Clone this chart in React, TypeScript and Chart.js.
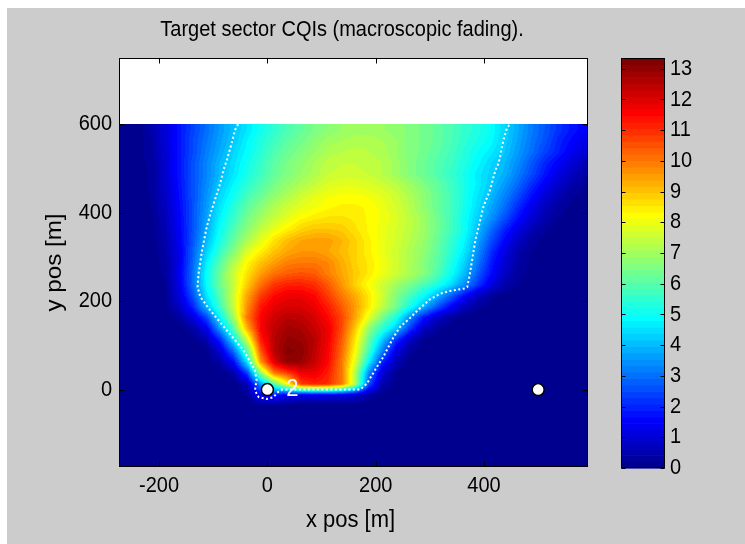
import React, { useEffect, useRef } from "react";
import { Chart, registerables } from "chart.js";

Chart.register(...registerables);

const FONT = "'Liberation Sans', Arial, Helvetica, sans-serif";

const titleText = "Target sector CQIs (macroscopic fading).";
const xAxisTitle = "x pos [m]";
const yAxisTitle = "y pos [m]";

const xRange = [-274, 592];
const yRange = [-175, 750];
const cqiRange = [0, 13.35];
const gridTop = 600;

const xTicks = [-200, 0, 200, 400];
const yTicks = [0, 200, 400, 600];
const cbTicks = [0, 1, 2, 3, 4, 5, 6, 7, 8, 9, 10, 11, 12, 13];

// cell centres of the CQI map (metres)
const xCenters = [
  -262.5, -237.5, -212.5, -187.5, -162.5, -137.5, -112.5, -87.5, -62.5, -37.5, -12.5,
  12.5, 37.5, 62.5, 87.5, 112.5, 137.5, 162.5, 187.5, 212.5, 237.5, 262.5, 287.5,
  312.5, 337.5, 362.5, 387.5, 412.5, 437.5, 462.5, 487.5, 512.5, 537.5, 562.5, 587.5,
];
const yCenters = [
  587.5, 562.5, 537.5, 512.5, 487.5, 462.5, 437.5, 412.5, 387.5, 362.5, 337.5, 312.5,
  287.5, 262.5, 237.5, 212.5, 187.5, 162.5, 137.5, 112.5, 87.5, 62.5, 37.5, 12.5,
  -12.5, -37.5, -62.5, -87.5, -112.5, -137.5, -162.5,
];

// CQI values, one row per y centre (top to bottom)
const cqiRows: number[][] = [
  [0,0.1,0.5,1.1,1.8,2.4,3.0,3.6,4.1,4.6,5.1,5.5,5.9,6.2,6.5,6.7,6.9,7.0,7.0,6.9,6.8,6.6,6.4,6.2,5.9,5.6,5.3,5.0,4.4,3.8,3.2,2.7,2.2,1.8,1.5],
  [0,0.1,0.4,1.1,1.8,2.5,3.1,3.7,4.2,4.8,5.3,5.7,6.1,6.4,6.7,7.0,7.1,7.2,7.2,7.1,6.9,6.6,6.4,6.2,5.9,5.5,5.2,4.9,4.3,3.7,3.1,2.6,2.0,1.6,1.2],
  [0,0.1,0.4,1.0,1.8,2.5,3.2,3.8,4.4,4.9,5.4,5.9,6.3,6.6,6.9,7.2,7.3,7.4,7.3,7.2,6.9,6.6,6.4,6.1,5.8,5.4,5.0,4.7,4.2,3.6,3.0,2.4,1.9,1.4,1.0],
  [0,0.1,0.3,1.0,1.8,2.6,3.3,4.0,4.5,5.1,5.6,6.1,6.5,6.8,7.1,7.4,7.5,7.5,7.4,7.3,7.0,6.6,6.3,6.0,5.7,5.3,4.9,4.4,4.0,3.4,2.7,2.0,1.5,1.0,0.6],
  [0,0.05,0.3,1.0,1.8,2.6,3.3,4.0,4.6,5.2,5.7,6.2,6.6,6.9,7.2,7.5,7.6,7.6,7.5,7.3,7.0,6.6,6.3,6.0,5.6,5.2,4.7,4.3,3.9,3.2,2.5,1.8,1.2,0.75,0.4],
  [0,0.05,0.27,0.9,1.75,2.6,3.4,4.2,4.85,5.45,5.95,6.45,6.85,7.2,7.5,7.8,7.9,7.9,7.8,7.6,7.35,7.0,6.6,6.2,5.75,5.25,4.75,4.2,3.6,2.9,2.1,1.4,0.85,0.45,0.2],
  [0,0.05,0.25,0.85,1.7,2.6,3.5,4.4,5.1,5.8,6.3,6.8,7.2,7.6,7.9,8.1,8.2,8.2,8.1,7.9,7.6,7.2,6.8,6.3,5.8,5.2,4.6,4.0,3.3,2.5,1.7,1.0,0.55,0.25,0.1],
  [0,0.05,0.22,0.75,1.6,2.6,3.6,4.6,5.4,6.1,6.7,7.2,7.6,7.9,8.1,8.3,8.4,8.4,8.3,8.0,7.7,7.3,6.8,6.3,5.8,5.2,4.5,3.8,3.0,2.1,1.3,0.7,0.35,0.12,0.03],
  [0,0.04,0.18,0.65,1.55,2.6,3.7,4.8,5.6,6.4,7.0,7.5,7.9,8.3,8.5,8.6,8.6,8.5,8.3,8.1,7.8,7.4,7.0,6.4,5.8,5.1,4.3,3.5,2.6,1.7,1.0,0.5,0.2,0.06,0.01],
  [0,0.03,0.12,0.6,1.5,2.6,3.8,5.0,5.9,6.7,7.4,8.0,8.4,8.8,9.0,9.0,8.9,8.6,8.3,8.0,7.7,7.4,7.0,6.4,5.8,5.1,4.1,3.0,2.0,1.2,0.6,0.25,0.08,0.02,0],
  [0,0.02,0.08,0.5,1.4,2.7,4.0,5.2,6.2,7.1,7.9,8.6,9.1,9.4,9.5,9.5,9.2,8.8,8.4,8.0,7.7,7.3,6.9,6.3,5.6,4.9,3.8,2.6,1.6,0.8,0.35,0.1,0.02,0,0],
  [0,0,0.05,0.45,1.3,2.8,4.3,5.6,6.6,7.8,8.4,9.0,9.4,9.6,9.6,9.4,9.1,8.8,8.4,8.0,7.6,7.2,6.8,6.2,5.5,4.7,3.5,2.2,1.2,0.5,0.2,0.05,0,0,0],
  [0,0,0.05,0.35,1.3,2.9,4.7,6.0,7.2,8.3,9.0,9.5,9.9,10.0,10.0,9.8,9.3,8.8,8.5,8.1,7.6,7.2,6.7,6.1,5.3,4.4,3.2,1.9,1.0,0.4,0.15,0.05,0,0,0],
  [0,0,0.02,0.3,1.4,3.0,5.0,6.3,7.6,8.6,9.5,10.1,10.4,10.5,10.4,9.9,9.4,8.9,8.5,8.0,7.6,7.2,6.7,6.0,5.1,4.1,2.8,1.7,0.8,0.3,0.1,0,0,0,0],
  [0,0,0,0.2,1.3,3.0,4.9,6.3,7.5,8.9,10.1,10.9,11.2,11.2,11.0,10.4,9.6,8.8,8.2,7.6,7.0,6.5,5.9,5.3,4.5,3.5,2.3,1.2,0.5,0.2,0.05,0,0,0,0],
  [0,0,0,0.2,1.1,2.6,4.6,6.0,7.6,9.4,10.8,11.5,11.8,11.8,11.5,10.8,10.0,9.3,8.5,7.6,6.6,5.8,5.0,4.0,2.9,1.7,0.8,0.3,0.1,0,0,0,0,0,0],
  [0,0,0,0.15,0.8,2.0,4.0,5.7,7.5,9.7,11.3,11.9,12.1,12.1,11.8,11.2,10.4,9.5,8.5,7.4,6.4,5.2,4.0,2.7,1.6,0.7,0.3,0.1,0,0,0,0,0,0,0],
  [0,0,0,0.05,0.3,1.1,2.4,4.8,7.0,10.0,11.6,12.2,12.5,12.4,12.1,11.5,10.7,9.4,7.9,6.4,5.2,3.4,1.8,0.8,0.3,0.1,0,0,0,0,0,0,0,0,0],
  [0,0,0,0,0.05,0.4,1.3,3.6,6.0,9.2,11.6,12.4,12.8,12.7,12.3,11.8,10.6,8.9,6.8,5.4,4.2,2.3,0.8,0.3,0.1,0,0,0,0,0,0,0,0,0,0],
  [0,0,0,0,0,0.05,0.5,2.0,4.6,7.6,11.2,12.5,13.0,12.9,12.5,11.7,10.4,8.5,6.2,4.2,2.2,0.8,0.2,0.05,0,0,0,0,0,0,0,0,0,0,0],
  [0,0,0,0,0,0,0.1,1.0,3.0,6.0,10.5,12.5,13.2,13.1,12.4,11.6,10.2,8.2,5.7,3.2,1.2,0.3,0.05,0,0,0,0,0,0,0,0,0,0,0,0],
  [0,0,0,0,0,0,0.05,0.4,1.6,4.6,9.6,12.0,13.0,12.9,12.3,11.5,10.0,7.8,4.8,2.0,0.6,0.1,0,0,0,0,0,0,0,0,0,0,0,0,0],
  [0,0,0,0,0,0,0,0.05,0.4,2.3,6.8,10.0,10.8,11.8,11.8,11.2,10.0,7.2,3.3,1.0,0.2,0,0,0,0,0,0,0,0,0,0,0,0,0,0],
  [0,0,0,0,0,0,0,0,0.05,0.6,3.5,6.0,8.2,10.8,11.2,11.0,10.0,7.2,2.6,0.5,0.1,0,0,0,0,0,0,0,0,0,0,0,0,0,0],
  [0,0,0,0,0,0,0,0,0,0.2,1.5,1.8,1.3,1.2,1.2,1.2,1.1,0.9,0.4,0.1,0,0,0,0,0,0,0,0,0,0,0,0,0,0,0],
  [0,0,0,0,0,0,0,0,0,0,0.1,0.1,0,0,0,0,0,0,0,0,0,0,0,0,0,0,0,0,0,0,0,0,0,0,0],
  [0,0,0,0,0,0,0,0,0,0,0,0,0,0,0,0,0,0,0,0,0,0,0,0,0,0,0,0,0,0,0,0,0,0,0],
  [0,0,0,0,0,0,0,0,0,0,0,0,0,0,0,0,0,0,0,0,0,0,0,0,0,0,0,0,0,0,0,0,0,0,0],
  [0,0,0,0,0,0,0,0,0,0,0,0,0,0,0,0,0,0,0,0,0,0,0,0,0,0,0,0,0,0,0,0,0,0,0],
  [0,0,0,0,0,0,0,0,0,0,0,0,0,0,0,0,0,0,0,0,0,0,0,0,0,0,0,0,0,0,0,0,0,0,0],
  [0,0,0,0,0,0,0,0,0,0,0,0,0,0,0,0,0,0,0,0,0,0,0,0,0,0,0,0,0,0,0,0,0,0,0],
];

// eNodeB sites
const siteX = [0, 500];
const siteY = [0, 0];
const siteLabelText = ["2"];
const siteLabelX = [35];
const siteLabelY = [0];

// target sector border (dotted)
const boundaryX = [
  -54, -60, -66, -75, -81, -87, -97, -103, -112, -118, -121, -127, -129, -124, -106, -75,
  -44, -23, -20, -23, -16, -1, 11, 20, 27, 171, 184, 202, 214, 233, 245, 261, 278, 300,
  319, 337, 365, 369, 374, 378, 384, 390, 399, 411, 421, 427, 436, 442, 448,
];
const boundaryY = [
  600, 587, 557, 519, 497, 467, 429, 406, 368, 331, 312, 263, 232, 210, 180, 134,
  89, 44, 21, -2, -17, -21, -17, -5, 0, 0, 14, 51, 74, 119, 142, 159, 180, 204,
  217, 223, 229, 232, 263, 293, 338, 368, 414, 451, 496, 512, 565, 591, 600,
];

function jetColor(v: number): [number, number, number] {
  let idx = Math.floor(((v - cqiRange[0]) / (cqiRange[1] - cqiRange[0])) * 64);
  if (idx > 63) idx = 63;
  if (idx < 0) idx = 0;
  const t = (idx + 1) / 64;
  const c = (a: number) => Math.round(Math.max(0, Math.min(1, a)) * 255);
  return [c(1.5 - Math.abs(4 * t - 3)), c(1.5 - Math.abs(4 * t - 2)), c(1.5 - Math.abs(4 * t - 1))];
}

function locate(centers: number[], v: number): [number, number] {
  const n = centers.length;
  for (let i = 0; i < n - 1; i++) {
    const a = centers[i];
    const b = centers[i + 1];
    if ((v >= a && v <= b) || (v <= a && v >= b)) return [i, (v - a) / (b - a)];
  }
  const asc = centers[1] > centers[0];
  if (asc ? v < centers[0] : v > centers[0]) return [0, 0];
  return [n - 2, 1];
}

// text slightly taller than wide, as in the reference picture
function drawText(
  ctx: CanvasRenderingContext2D,
  text: string,
  x: number,
  y: number,
  size: number,
  align: CanvasTextAlign,
  baseline: CanvasTextBaseline,
  color: string,
  rotate = 0
) {
  ctx.save();
  ctx.translate(x, y);
  if (rotate) ctx.rotate(rotate);
  if (rotate) ctx.scale(1.1, 1);
  else ctx.scale(1, 1.1);
  ctx.font = `${size}px ${FONT}`;
  ctx.fillStyle = color;
  ctx.textAlign = align;
  ctx.textBaseline = baseline;
  ctx.fillText(text, 0, 0);
  ctx.restore();
}

const heatmapPlugin = {
  id: "cqiHeatmap",
  beforeDatasetsDraw(chart: any) {
    const { ctx, chartArea: a } = chart;
    const xs = chart.scales.x;
    const ys = chart.scales.y;
    const L = Math.round(a.left);
    const T = Math.round(a.top);
    const W = Math.round(a.right) - L;
    const H = Math.round(a.bottom) - T;
    ctx.save();
    ctx.fillStyle = "#ffffff";
    ctx.fillRect(L, T, W, H);
    const off = document.createElement("canvas");
    off.width = W;
    off.height = H;
    const octx = off.getContext("2d")!;
    const img = octx.createImageData(W, H);
    const cols: [number, number][] = [];
    for (let i = 0; i < W; i++) cols.push(locate(xCenters, xs.getValueForPixel(L + i + 0.5)));
    for (let j = 0; j < H; j++) {
      const yv = ys.getValueForPixel(T + j + 0.5);
      if (yv > gridTop) continue;
      const [r, fy] = locate(yCenters, yv);
      const r0 = cqiRows[r];
      const r1 = cqiRows[r + 1];
      for (let i = 0; i < W; i++) {
        const [c, fx] = cols[i];
        const v =
          (1 - fy) * ((1 - fx) * r0[c] + fx * r0[c + 1]) + fy * ((1 - fx) * r1[c] + fx * r1[c + 1]);
        const col = jetColor(v);
        const k = (j * W + i) * 4;
        img.data[k] = col[0];
        img.data[k + 1] = col[1];
        img.data[k + 2] = col[2];
        img.data[k + 3] = 255;
      }
    }
    octx.putImageData(img, 0, 0);
    ctx.drawImage(off, L, T);
    ctx.restore();
  },
};

const framePlugin = {
  id: "matlabFrame",
  afterDraw(chart: any) {
    const { ctx, chartArea: a } = chart;
    const xs = chart.scales.x;
    const ys = chart.scales.y;
    const L = Math.round(a.left) + 0.5;
    const T = Math.round(a.top) + 0.5;
    const R = Math.round(a.right) - 0.5;
    const B = Math.round(a.bottom) - 0.5;
    ctx.save();
    siteLabelText.forEach((s, i) => {
      drawText(ctx, s, xs.getPixelForValue(siteLabelX[i]), ys.getPixelForValue(siteLabelY[i]), 22, "left", "middle", "#fff4ff");
    });
    ctx.strokeStyle = "#000";
    ctx.lineWidth = 1;
    ctx.strokeRect(L, T, R - L, B - T);
    const tl = 5;
    ctx.beginPath();
    xTicks.forEach((v) => {
      const px = Math.round(xs.getPixelForValue(v)) + 0.5;
      ctx.moveTo(px, B);
      ctx.lineTo(px, B - tl);
      ctx.moveTo(px, T);
      ctx.lineTo(px, T + tl);
    });
    yTicks.forEach((v) => {
      const py = Math.round(ys.getPixelForValue(v)) + 0.5;
      ctx.moveTo(L, py);
      ctx.lineTo(L + tl, py);
      ctx.moveTo(R, py);
      ctx.lineTo(R - tl, py);
    });
    ctx.stroke();
    xTicks.forEach((v) => {
      drawText(ctx, String(v), xs.getPixelForValue(v), a.bottom + 19, 20, "center", "middle", "#000");
    });
    yTicks.forEach((v) => {
      drawText(ctx, String(v), a.left - 7, ys.getPixelForValue(v), 20, "right", "middle", "#000");
    });
    drawText(ctx, titleText, 342, 35.5, 20, "center", "alphabetic", "#000");
    drawText(ctx, xAxisTitle, (a.left + a.right) / 2 - 3, 527, 22, "center", "alphabetic", "#000");
    drawText(ctx, yAxisTitle, 61, (a.top + a.bottom) / 2, 22, "center", "alphabetic", "#000", -Math.PI / 2);
    ctx.restore();
  },
};

const colorbarPlugin = {
  id: "colorbar",
  afterDraw(chart: any) {
    const { ctx, chartArea: a } = chart;
    const ys = chart.scales.y;
    ctx.save();
    for (let i = 0; i < 64; i++) {
      const v0 = cqiRange[0] + ((cqiRange[1] - cqiRange[0]) * i) / 64;
      const v1 = cqiRange[0] + ((cqiRange[1] - cqiRange[0]) * (i + 1)) / 64;
      const y0 = ys.getPixelForValue(v0);
      const y1 = ys.getPixelForValue(v1);
      const col = jetColor((v0 + v1) / 2);
      ctx.fillStyle = `rgb(${col[0]},${col[1]},${col[2]})`;
      ctx.fillRect(a.left, y1, a.right - a.left, y0 - y1 + 0.6);
    }
    const L = Math.round(a.left) + 0.5;
    const T = Math.round(a.top) + 0.5;
    const R = Math.round(a.right) - 0.5;
    const B = Math.round(a.bottom) - 0.5;
    ctx.strokeStyle = "#000";
    ctx.lineWidth = 1;
    ctx.strokeRect(L, T, R - L, B - T);
    ctx.beginPath();
    cbTicks.forEach((v) => {
      const py = Math.round(ys.getPixelForValue(v)) + 0.5;
      ctx.moveTo(L, py);
      ctx.lineTo(L + 4, py);
      ctx.moveTo(R, py);
      ctx.lineTo(R - 4, py);
    });
    ctx.stroke();
    cbTicks.forEach((v) => {
      drawText(ctx, String(v), a.right + 5, ys.getPixelForValue(v), 20, "left", "middle", "#000");
    });
    ctx.restore();
  },
};

export default function App() {
  const mainRef = useRef<HTMLCanvasElement>(null);
  const cbRef = useRef<HTMLCanvasElement>(null);

  useEffect(() => {
    const main = new Chart(mainRef.current!, {
      type: "scatter",
      data: {
        datasets: [
          {
            label: "sites",
            data: siteX.map((x, i) => ({ x, y: siteY[i] })),
            showLine: false,
            pointRadius: 6,
            pointHoverRadius: 6,
            pointBackgroundColor: "#ffffff",
            pointBorderColor: "#000000",
            pointBorderWidth: 1.5,
          },
          {
            label: "sector border",
            data: boundaryX.map((x, i) => ({ x, y: boundaryY[i] })),
            showLine: true,
            borderColor: "#ffffff",
            borderWidth: 2,
            borderDash: [2, 2.5],
            pointRadius: 0,
            fill: false,
            tension: 0,
          },
        ],
      },
      options: {
        responsive: false,
        animation: false,
        devicePixelRatio: 1,
        events: [],
        layout: { padding: { left: 0, top: 58, right: 157, bottom: 0 } },
        plugins: { legend: { display: false }, tooltip: { enabled: false }, title: { display: false } },
        scales: {
          x: {
            type: "linear",
            min: xRange[0],
            max: xRange[1],
            grid: { display: false, drawTicks: false },
            border: { display: false },
            ticks: { display: false },
            afterBuildTicks: (s: any) => {
              s.ticks = xTicks.map((v) => ({ value: v }));
            },
            afterFit: (s: any) => {
              s.height = 77;
            },
          },
          y: {
            type: "linear",
            min: yRange[0],
            max: yRange[1],
            grid: { display: false, drawTicks: false },
            border: { display: false },
            ticks: { display: false },
            afterBuildTicks: (s: any) => {
              s.ticks = yTicks.map((v) => ({ value: v }));
            },
            afterFit: (s: any) => {
              s.width = 119;
            },
          },
        },
      },
      plugins: [heatmapPlugin, framePlugin],
    } as any);

    const cb = new Chart(cbRef.current!, {
      type: "scatter",
      data: { datasets: [] },
      options: {
        responsive: false,
        animation: false,
        devicePixelRatio: 1,
        events: [],
        layout: { padding: { left: 21, top: 58, right: 0, bottom: 76 } },
        plugins: { legend: { display: false }, tooltip: { enabled: false } },
        scales: {
          x: { type: "linear", display: false, min: 0, max: 1 },
          y: {
            type: "linear",
            position: "right",
            min: cqiRange[0],
            max: cqiRange[1],
            grid: { display: false, drawTicks: false },
            border: { display: false },
            ticks: { display: false },
            afterBuildTicks: (s: any) => {
              s.ticks = cbTicks.map((v) => ({ value: v }));
            },
            afterFit: (s: any) => {
              s.width = 80;
            },
          },
        },
      },
      plugins: [colorbarPlugin],
    } as any);

    return () => {
      main.destroy();
      cb.destroy();
    };
  }, []);

  return (
    <div style={{ position: "absolute", left: 0, top: 0, width: 745, height: 544, background: "#ffffff", overflow: "hidden" }}>
      <div style={{ position: "absolute", left: 7, top: 8, right: 0, bottom: 0, background: "#cccccc" }} />
      <canvas ref={mainRef} width={745} height={544} style={{ position: "absolute", left: 0, top: 0 }} />
      <canvas ref={cbRef} width={145} height={544} style={{ position: "absolute", left: 600, top: 0 }} />
    </div>
  );
}
